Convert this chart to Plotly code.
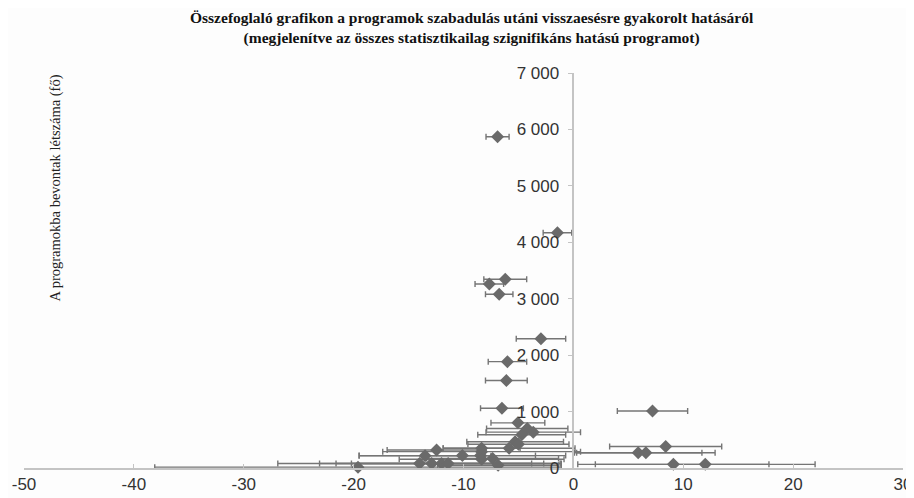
import plotly.graph_objects as go

# hatás (százalékpont) - vízszintes tengely
effect = [-6.9, -1.45, -6.2, -7.65, -6.75, -2.95, -6.0, -6.1, -6.5, 7.2,
          -5.05, -4.2, -3.65, -4.7, -5.3, -5.0, -5.85, -8.35, -8.35, 8.4,
          5.9, 6.6, -10.1, -8.45, -13.5, -7.35, -8.35, -12.45, -14.0, -12.9,
          -12.0, -11.4, -19.6, -6.85, 9.1, 12.0]
# bevont létszám (fő)
headcount = [5870, 4170, 3345, 3260, 3080, 2290, 1885, 1550, 1060, 1010,
             800, 700, 635, 590, 465, 420, 350, 350, 290, 380,
             270, 270, 220, 220, 215, 170, 155, 320, 80, 80,
             80, 80, 15, 50, 65, 65]
# konfidencia intervallum fele
ci_half = [1.05, 1.3, 1.95, 1.3, 1.25, 2.25, 1.75, 1.9, 1.95, 3.2,
           2.45, 3.7, 4.3, 4.0, 4.4, 4.6, 6.0, 3.5, 9.0, 5.1,
           5.8, 6.3, 9.4, 5.0, 6.0, 6.0, 7.5, 4.5, 12.9, 10.2,
           8.2, 10.2, 18.5, 5.5, 8.7, 10.0]

x_ticks = [-50, -40, -30, -20, -10, 0, 10, 20, 30]
x_tick_text = ["-50", "-40", "-30", "-20", "-10", "0", "10", "20", "30"]
y_ticks = [0, 1000, 2000, 3000, 4000, 5000, 6000, 7000]
y_tick_text = ["0", "1 000", "2 000", "3 000", "4 000", "5 000", "6 000", "7 000"]

title = ("<b>Összefoglaló grafikon a programok szabadulás utáni visszaesésre gyakorolt hatásáról<br>"
         "(megjelenítve az összes statisztikailag szignifikáns hatású programot)</b>")
y_title = "A programokba bevontak létszáma (fő)"

axis_grey = "#c4c4c4"

fig = go.Figure()
fig.add_trace(go.Scatter(
    x=effect, y=headcount,
    mode="markers",
    marker=dict(symbol="diamond", size=10, color="#6a6a6a"),
    error_x=dict(type="data", array=ci_half, visible=True,
                 color="#757575", thickness=1.4, width=3),
    cliponaxis=False,
    showlegend=False,
))

fig.update_xaxes(
    range=[-50, 30], tickvals=x_ticks, ticktext=x_tick_text,
    showgrid=False, zeroline=False,
    showline=True, linecolor=axis_grey, linewidth=1.5,
    ticks="inside", ticklen=4, tickcolor=axis_grey, automargin=False,
    tickfont=dict(family="Liberation Sans", size=17, color="#333333"),
)
fig.update_yaxes(
    range=[0, 7000], tickvals=y_ticks, ticktext=y_tick_text,
    showgrid=False, zeroline=False,
    anchor="free", position=0.625, automargin=False,
    showline=True, linecolor=axis_grey, linewidth=1.5,
    ticks="outside", ticklen=5, tickcolor=axis_grey, ticklabelstandoff=5,
    tickfont=dict(family="Liberation Sans", size=17, color="#333333"),
)

fig.add_annotation(
    text=y_title, xref="paper", yref="paper", x=0.036, y=0.709,
    xanchor="center", yanchor="middle",
    textangle=-90, showarrow=False,
    font=dict(family="Liberation Serif", size=14.5, color="#222222"),
)
fig.add_annotation(
    text=title, xref="paper", yref="paper", x=0.51, y=1.168,
    xanchor="center", yanchor="top", align="center", showarrow=False,
    font=dict(family="Liberation Serif", size=15.5, color="#111111"),
)

fig.update_layout(
    width=914, height=498,
    margin=dict(l=16, r=19, t=65, b=38),
    plot_bgcolor="#fdfdfd", paper_bgcolor="#fdfdfd",
)

fig.write_html("out.html")
